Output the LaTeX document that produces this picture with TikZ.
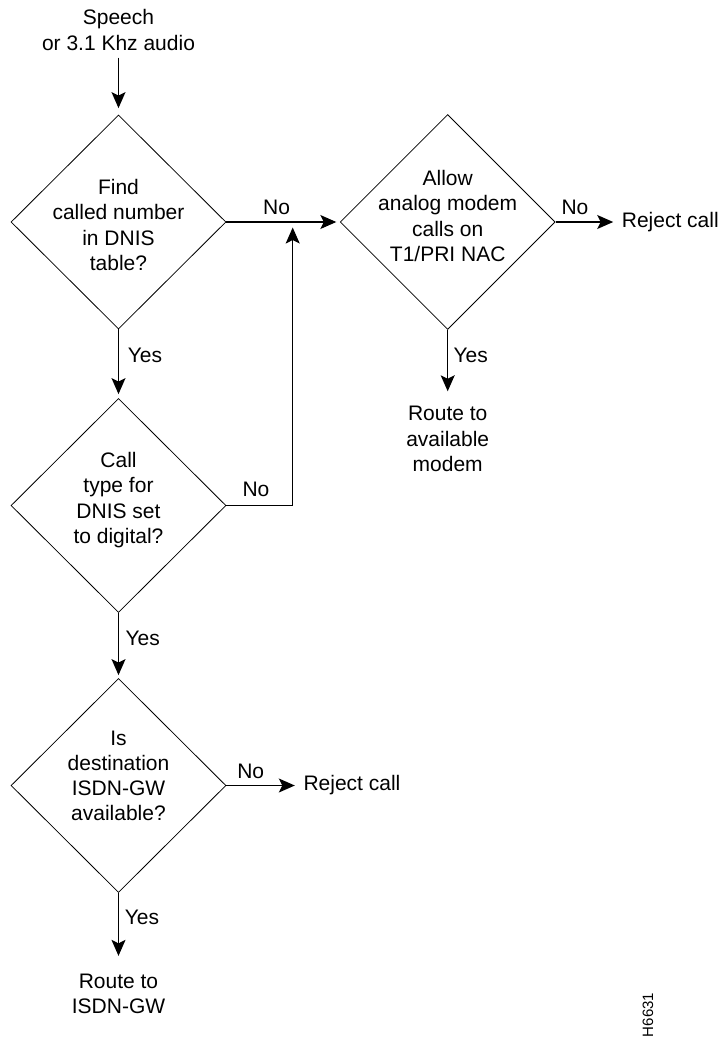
\documentclass[tikz,border=0pt]{standalone}
\usepackage{fontspec}
\setmainfont{Liberation Sans}
\usetikzlibrary{shapes.geometric,arrows.meta}
\begin{document}
\begin{tikzpicture}[x=1pt,y=-1pt,
  font=\fontsize{21}{25.2}\selectfont,
  decision/.style={draw,line width=0.8pt,shape=diamond,inner sep=0pt,minimum width=215pt,minimum height=214pt},
  txt/.style={align=center,inner sep=0pt},
  lbl/.style={inner sep=0pt},
  conn/.style={line width=1.2pt,-{Stealth[length=16pt,width=14pt,inset=3.5pt]}}]
\useasboundingbox (0,0) rectangle (721,1042);
% nodes
\node[txt] (src) at (118.5,30) {Speech\\or 3.1 Khz audio};
\node[decision] (d1) at (118.5,222) {};
\node[txt] (d1t) at (118.5,225) {Find\\called number\\in DNIS\\table?};
\node[decision] (d2) at (118.5,505.5) {};
\node[txt] (d2t) at (118.5,500) {Call\\type for\\DNIS set\\to digital?};
\node[decision] (d3) at (118.5,785.5) {};
\node[txt] (d3t) at (118.5,776) {Is\\destination\\ISDN-GW\\available?};
\node[decision,minimum height=215pt] (d4) at (447.7,222) {};
\node[txt] (d4t) at (447.7,216) {Allow\\analog modem\\calls on\\T1/PRI NAC};
\node[txt,anchor=west] (rej1) at (621.7,222) {Reject call};
\node[txt,anchor=west] (rej2) at (303.3,785.5) {Reject call};
\node[txt] (modem) at (447.7,439) {Route to\\available\\modem};
\node[txt] (isdn) at (118.5,994) {Route to\\ISDN-GW};
\coordinate (j) at (292.7,222);
% labels
\node[lbl] (n1) at (276.6,207.5) {No};
\node[lbl] (n2) at (575,207.5) {No};
\node[lbl] (y1) at (145,355) {Yes};
\node[lbl] (n3) at (256,489) {No};
\node[lbl] (y2) at (142.7,638) {Yes};
\node[lbl] (n4) at (250.7,771.7) {No};
\node[lbl] (y3) at (142,917.7) {Yes};
\node[lbl] (y4) at (470.7,355) {Yes};
\node[lbl,rotate=90,font=\fontsize{15}{18}\selectfont] (id) at (648,1015) {H6631};
% connectors
\draw[conn,shorten <=7pt,shorten >=6.5pt] (src.south) -- (d1.north);
\draw[conn,shorten >=4pt] (d1.south) -- (d2.north);
\draw[conn,shorten >=3.5pt] (d1.east) -- (d4.west);
\draw[conn,shorten >=8.5pt] (d4.east) -- (rej1.west);
\draw[conn,shorten >=5.5pt] (d2.east) -| (j);
\draw[conn,shorten >=3pt] (d2.south) -- (d3.north);
\draw[conn,shorten >=8.5pt] (d3.east) -- (rej2.west);
\draw[conn,shorten >=18pt] (d3.south) -- (isdn.north);
\draw[conn,shorten >=15pt] (d4.south) -- (modem.north);
\end{tikzpicture}
\end{document}
